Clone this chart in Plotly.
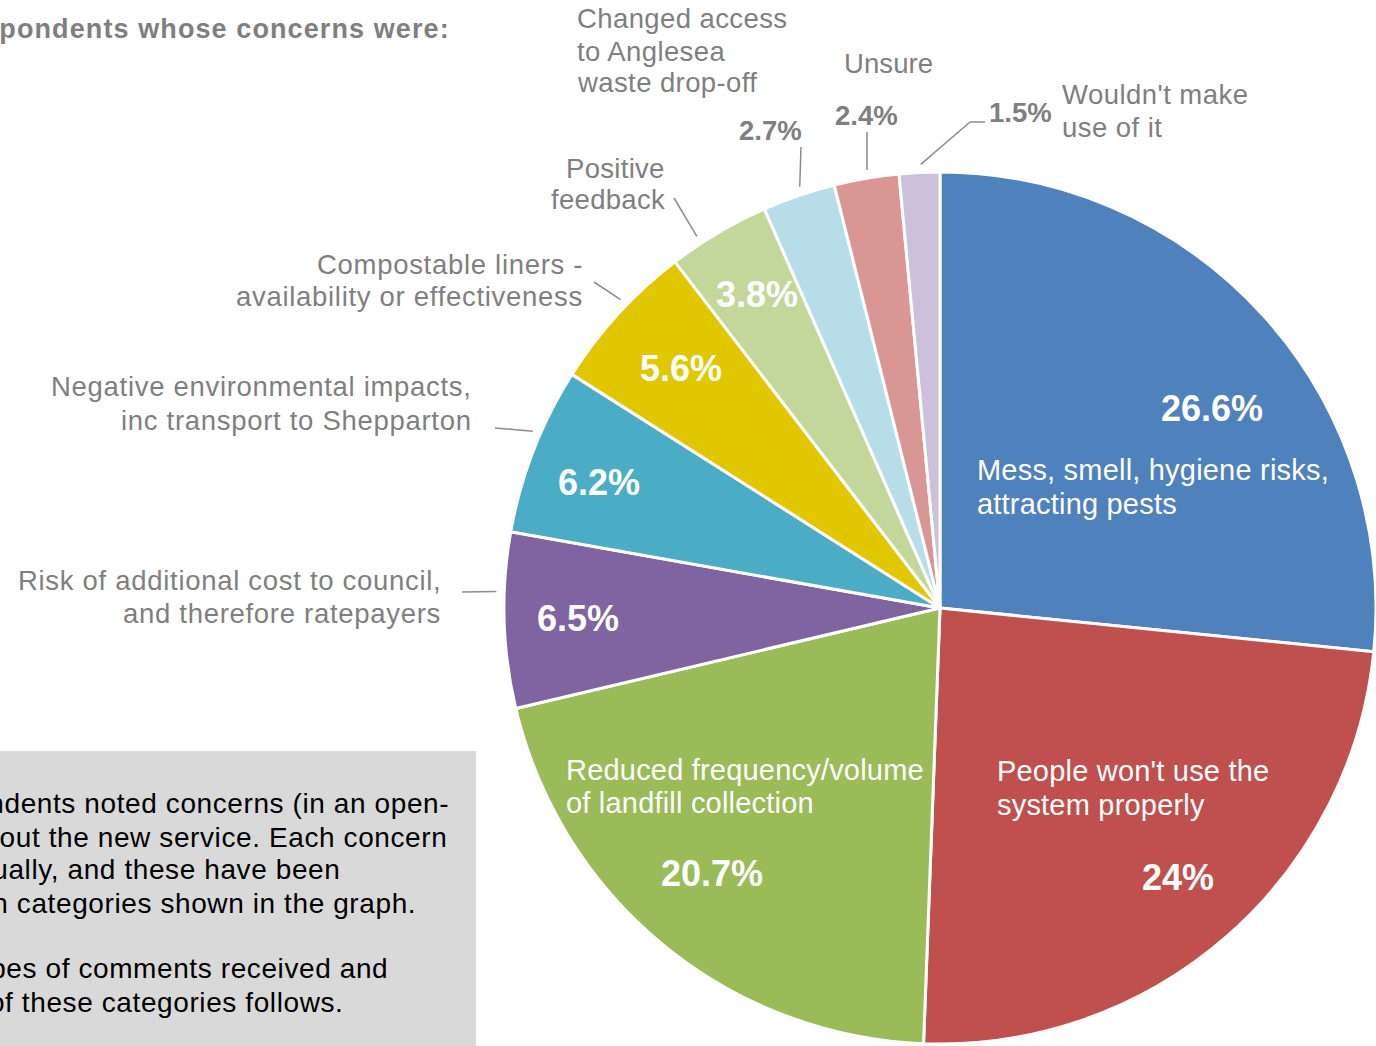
import math
import plotly.graph_objects as go

# ---------------- data ----------------
categories = [
    "Mess, smell, hygiene risks, attracting pests",
    "People won't use the system properly",
    "Reduced frequency/volume of landfill collection",
    "Risk of additional cost to council, and therefore ratepayers",
    "Negative environmental impacts, inc transport to Shepparton",
    "Compostable liners - availability or effectiveness",
    "Positive feedback",
    "Changed access to Anglesea waste drop-off",
    "Unsure",
    "Wouldn't make use of it",
]
shares = [26.6, 24.0, 20.7, 6.5, 6.2, 5.6, 3.8, 2.7, 2.4, 1.5]
label_lines = [
    ["Mess, smell, hygiene risks,", "attracting pests"],
    ["People won't use the", "system properly"],
    ["Reduced frequency/volume", "of landfill collection"],
    ["Risk of additional cost to council,", "and therefore ratepayers"],
    ["Negative environmental impacts,", "inc transport to Shepparton"],
    ["Compostable liners -", "availability or effectiveness"],
    ["Positive", "feedback"],
    ["Changed access", "to Anglesea", "waste drop-off"],
    ["Unsure"],
    ["Wouldn't make", "use of it"],
]
title_text = "Percentage of respondents whose concerns were:"
note_lines = [
    "Many respondents noted concerns (in an open-",
    "ended question) about the new service. Each concern",
    "was coded individually, and these have been",
    "grouped into the main categories shown in the graph.",
    "Examples of the types of comments received and",
    "a description of these categories follows.",
]

# ---------------- style ----------------
colors = ["#4F81BD", "#C0504D", "#9BBB59", "#8064A2", "#4BACC6",
          "#E1C700", "#C4D79B", "#B7DEE8", "#D99694", "#CCC1DA"]
W, H = 1376, 1046
CX, CY, R = 940.0, 608.0, 436.0
FONT = "Liberation Sans, Arial, Helvetica, sans-serif"
GRAY = "#7F7F7F"

pct_pos = [(1212, 408), (1178, 877), (712, 873), (578, 618), (599, 482),
           (681, 368), (757, 295), (770, 130), (866, 115), (1020, 112)]
pct_inside = [True, True, True, True, True, True, True, False, False, False]
name_pos = [(977, 470, "left", 34), (997, 771, "left", 34), (566, 770, "left", 33),
            (441, 580, "right", 33), (472, 386, "right", 34), (583, 264, "right", 33),
            (665, 168, "right", 32), (577, 19, "left", 32), (888, 63, "center", 32),
            (1062, 95, "left", 32)]
name_inside = [True, True, True, False, False, False, False, False, False, False]
name_spacing = [0.2, 0.2, 0.2, 0.7, 0.7, 0.7, 0.3, 0.4, 0.1, 0.45]
leaders = {
    3: (0.66, [(462, 592)]),
    4: (0.60, [(495, 428)]),
    5: (0.575, [(594, 282)]),
    6: (0.31, [(674, 198)]),
    7: (0.55, [(801, 147)]),
    8: (0.53, [(867, 132)]),
    9: (0.54, [(970, 122), (985, 122)]),
}
note_right = [449, 447, 340, 416, 388, 343]
note_y = [803, 837, 869, 903, 968, 1002]


def px(x):
    return x / W


def py(y):
    return 1 - y / H


def spaced(t, sp):
    return f'<span style="letter-spacing:{sp}px">{t}</span>'


def ann(x, y, text, size, color, xanchor="center"):
    return dict(x=px(x), y=py(y), xref="paper", yref="paper", showarrow=False,
                xanchor=xanchor, yanchor="middle", text=text, borderpad=0, borderwidth=0,
                font=dict(family=FONT, size=size, color=color))


fig = go.Figure()
fig.add_trace(go.Pie(
    labels=categories,
    values=shares,
    sort=False,
    direction="clockwise",
    rotation=0,
    marker=dict(colors=colors, line=dict(color="white", width=3)),
    textinfo="none",
    hoverinfo="label+percent",
    showlegend=False,
    domain=dict(x=[px(CX - R), min(1.0, px(CX + R))], y=[py(CY + R), py(CY - R)]),
))

annotations = []
shapes = []

shapes.append(dict(type="rect", xref="paper", yref="paper",
                   x0=px(-5), x1=px(476), y0=py(751), y1=py(H + 5),
                   fillcolor="#D9D9D9", line=dict(width=0), layer="below"))

annotations.append(ann(450, 29, "<b>" + spaced(title_text, 1.1) + "</b>", 27, GRAY, "right"))

for t, xr, yy in zip(note_lines, note_right, note_y):
    annotations.append(ann(xr, yy, spaced(t, 0.6), 28, "#000000", "right"))

total = sum(shares)
for v, (x, y), inside in zip(shares, pct_pos, pct_inside):
    txt = f"{v:g}%"
    annotations.append(ann(x, y, "<b>" + txt + "</b>", 36 if inside else 27.5,
                           "white" if inside else GRAY))

for lines, (x, y0, anchor, gap), inside, sp in zip(label_lines, name_pos, name_inside, name_spacing):
    for k, ln in enumerate(lines):
        annotations.append(ann(x, y0 + k * gap, spaced(ln, sp), 29 if inside else 27.5,
                               "white" if inside else GRAY, anchor))

cum = 0.0
starts = []
for v in shares:
    starts.append(cum)
    cum += v
for i, (frac, pts) in leaders.items():
    ang = (starts[i] + frac * shares[i]) / total * 2 * math.pi
    ix = CX + (R + 8) * math.sin(ang)
    iy = CY - (R + 8) * math.cos(ang)
    path_pts = [(ix, iy)] + pts
    for (x0, y0), (x1, y1) in zip(path_pts[:-1], path_pts[1:]):
        shapes.append(dict(type="line", xref="paper", yref="paper",
                           x0=px(x0), y0=py(y0), x1=px(x1), y1=py(y1),
                           line=dict(color="#8C8C8C", width=1.5)))

fig.update_layout(
    width=W, height=H,
    margin=dict(l=0, r=0, t=0, b=0),
    paper_bgcolor="white",
    plot_bgcolor="white",
    annotations=annotations,
    shapes=shapes,
    font=dict(family=FONT),
)

fig.write_html("out.html", config={"displayModeBar": False})
